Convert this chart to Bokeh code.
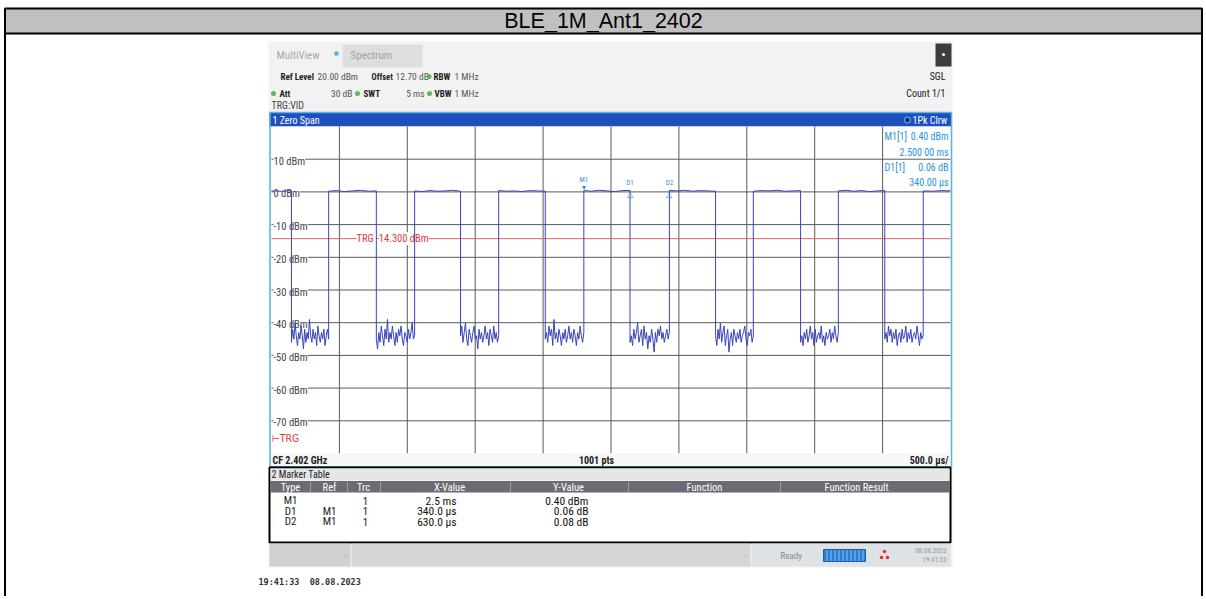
import numpy as np
from bokeh.plotting import figure
from bokeh.models import Range1d
from bokeh.core.properties import value
from bokeh.embed import file_html
from bokeh.resources import INLINE

# ---------------- data ----------------
chart_title = "BLE_1M_Ant1_2402"
y_tick_dbm = [10, 0, -10, -20, -30, -40, -50, -60, -70]
y_tick_labels = ["10 dBm", "0 dBm", "-10 dBm", "-20 dBm", "-30 dBm",
                 "-40 dBm", "-50 dBm", "-60 dBm", "-70 dBm"]
x_grid_ms = [0.7, 1.2, 1.7, 2.2, 2.7, 3.2, 3.7, 4.2, 4.7]
trigger_dbm = -14.3

burst_start_ms = [0.200, 0.621, 1.254, 1.873, 2.500, 3.130, 3.748, 4.374, 4.999]
burst_end_ms = [0.347, 0.972, 1.592, 2.216, 2.840, 3.470, 4.096, 4.716, 5.200]
burst_level_dbm = [
    [0.3, 0.2, 0.4],
    [0.2, 0.4, 0.1, 0.3, 0.5, 0.2, 0.3],
    [0.3, 0.1, 0.4, 0.2, 0.3, 0.5, 0.2],
    [0.4, 0.2, 0.3, 0.1, 0.4, 0.3, 0.2],
    [0.4, 0.2, 0.5, 0.3, 0.1, 0.4, 0.46],
    [0.48, 0.3, 0.5, 0.2, 0.4, 0.3, 0.2],
    [0.2, 0.4, 0.3, 0.5, 0.2, 0.3, 0.4],
    [0.3, 0.5, 0.2, 0.4, 0.1, 0.3, 0.4],
    [0.3, 0.2, 0.4, 0.3],
]
noise_dbm = [
    [-46, -42, -45, -40, -44, -47, -43, -45, -41, -44, -48, -42, -46, -43, -45, -39, -44, -46, -42, -45, -43, -47, -41, -44, -46, -43, -45, -42, -47, -44, -42, -45],
    [-45, -48, -43, -46, -41, -44, -47, -42, -45, -39, -46, -43, -45, -41, -44, -47, -43, -46, -42, -44, -41, -45, -47, -43, -44, -46, -42, -45, -43, -40, -45, -44],
    [-44, -41, -46, -43, -40, -45, -47, -42, -44, -46, -43, -41, -45, -44, -48, -42, -45, -43, -46, -44, -41, -45, -43, -47, -42, -44, -46, -41, -45, -43, -46, -44],
    [-45, -43, -46, -41, -44, -42, -47, -39, -45, -43, -46, -42, -44, -47, -43, -45, -42, -46, -44, -41, -45, -43, -46, -42, -44, -47, -43, -45, -41, -44, -46, -43],
    [-46, -44, -47, -42, -45, -43, -40, -46, -44, -42, -47, -41, -45, -43, -48, -44, -46, -42, -45, -49, -43, -46, -42, -44, -41, -45, -43, -46, -44, -42, -45, -43],
    [-44, -47, -42, -45, -40, -46, -43, -41, -47, -44, -42, -49, -45, -43, -47, -42, -44, -46, -43, -45, -42, -46, -44, -43, -41, -45, -47, -43, -44, -42, -46, -44],
    [-46, -44, -47, -43, -45, -42, -46, -44, -41, -45, -43, -47, -42, -46, -44, -43, -45, -41, -46, -44, -47, -43, -45, -44, -42, -46, -43, -45, -41, -44, -46, -43],
    [-45, -43, -46, -41, -44, -42, -46, -43, -45, -42, -47, -44, -43, -46, -42, -45, -44, -41, -46, -43, -45, -42, -46, -44, -43, -45, -41, -44, -47, -43, -45, -44],
]

marker_names = ["M1", "D1", "D2"]
marker_t_ms = [2.50, 2.84, 3.13]
marker_dbm = [0.40, 0.46, 0.48]

table_cols = ["Type", "Ref", "Trc", "X-Value", "Y-Value", "Function", "Function Result"]
table_type = ["M1", "D1", "D2"]
table_ref = ["", "M1", "M1"]
table_trc = ["1", "1", "1"]
table_x = ["2.5 ms", "340.0 \u00b5s", "630.0 \u00b5s"]
table_y = ["0.40 dBm", "0.06 dB", "0.08 dB"]

# ---------------- layout (page pixels) ----------------
W, H = 1204, 596
OX, OY = 0, 0
PL, PR, PT, PB = 271, 950, 126, 453
T0, T1 = 0.2, 5.2
DTOP, DBOT = 20.0, -80.0
tpp = (T1 - T0) / (PR - PL)
dpp = (DTOP - DBOT) / (PB - PT)

UI = value("Liberation Sans Narrow, Roboto Condensed, Roboto, sans-serif")
TITLEF = value("Liberation Sans")
MONO = value("DejaVu Sans Mono")

p = figure(width=W, height=H, x_range=Range1d(OX, OX + W), y_range=Range1d(OY + H, OY),
           toolbar_location=None, output_backend="svg", x_axis_type=None, y_axis_type=None,
           min_border=0)
p.outline_line_color = None
p.background_fill_color = "white"
p.border_fill_color = "white"
p.extra_x_ranges = {"t": Range1d(T0 - (PL - OX) * tpp, T1 + (OX + W - PR) * tpp)}
p.extra_y_ranges = {"dbm": Range1d(DBOT - (OY + H - PB) * dpp, DTOP + (PT - OY) * dpp)}


def box(x0, y0, x1, y1, fill, line=None, lw=1, **kw):
    p.quad(left=[x0], right=[x1], top=[y0], bottom=[y1], fill_color=fill,
           line_color=line, line_width=lw, **kw)


def txt(x, y, s, size=10, color="#333333", align="left", bold=False, font=UI, **kw):
    p.text(x=[x], y=[y], text=[s], text_font_size=f"{size}px", text_align=align,
           text_baseline="middle", text_color=color, text_font=font,
           text_font_style="bold" if bold else "normal", **kw)


def dot(x, y, color, size=5):
    p.scatter(x=[x], y=[y], size=size, fill_color=color, line_color=None)


# ---- outer frame and title ----
box(4.5, 8, 1201.5, 33, "#c0c0c0", "black", 2)
p.segment(x0=[4.5, 1201.5], y0=[33, 33], x1=[4.5, 1201.5], y1=[H, H],
          line_color="black", line_width=2)
txt(603, 20.5, chart_title, size=21.5, color="black", align="center", font=TITLEF)

# ---- instrument screenshot background ----
box(268, 41, 952, 567, "#f2f2f2")
txt(276, 55, "MultiView", 11, "#a8a8a8")
box(334, 51, 338, 55, "#4ab0e8")
box(342, 44, 422, 67, "#dedede")
txt(350, 55, "Spectrum", 11, "#a0a0a0")
box(935, 43, 951, 66, "#3c3c3c")
dot(943, 54, "white", 3)

txt(280, 76, "Ref Level", 9, "#222", bold=True)
txt(317, 76, "20.00 dBm", 9.5, "#555")
txt(371, 76, "Offset", 8.5, "#222", bold=True)
txt(395, 76, "12.70 dB", 9.5, "#555")
dot(428.5, 76, "#5cb85c")
txt(433, 76, "RBW", 9, "#222", bold=True)
txt(454, 76, "1 MHz", 9.5, "#555")
txt(945, 76, "SGL", 10, "#222", align="right")

dot(273, 93, "#5cb85c")
txt(279, 93, "Att", 9, "#222", bold=True)
txt(352, 93, "30 dB", 9.5, "#555", align="right")
dot(357, 93, "#5cb85c")
txt(363, 93, "SWT", 9, "#222", bold=True)
txt(424, 93, "5 ms", 9.5, "#555", align="right")
dot(429, 93, "#5cb85c")
txt(434, 93, "VBW", 9, "#222", bold=True)
txt(454, 93, "1 MHz", 9.5, "#555")
txt(945, 93, "Count 1/1", 10, "#222", align="right")
txt(271, 105, "TRG:VID", 10, "#444")

# ---- window title bar ----
box(269, 112, 951, 126, "#1e4fbf")
txt(272, 119.5, "1 Zero Span", 10, "white")
p.scatter(x=[907], y=[119.5], size=6, fill_color="#0d2a80", line_color="#7fc4f0", line_width=1)
txt(912, 119.5, "1Pk Clrw", 10, "white")

# ---- plot area ----
box(PL, PT, PR, PB, "white")
gx = dict(x_range_name="t", y_range_name="dbm")
p.segment(x0=x_grid_ms, y0=[DBOT] * len(x_grid_ms), x1=x_grid_ms, y1=[DTOP] * len(x_grid_ms),
          line_color="#5a5a5a", line_width=1, **gx)
p.segment(x0=[T0] * len(y_tick_dbm), y0=y_tick_dbm, x1=[T1] * len(y_tick_dbm), y1=y_tick_dbm,
          line_color="#5a5a5a", line_width=1, **gx)
p.segment(x0=[T0], y0=[trigger_dbm], x1=[T1], y1=[trigger_dbm], line_color="#e06060",
          line_width=1, **gx)

p.text(x=[273] * len(y_tick_dbm), y=y_tick_dbm, text=y_tick_labels, text_font_size="10.5px",
       text_baseline="middle", text_color="#444444", text_font=UI, y_offset=2,
       background_fill_color="white", y_range_name="dbm")
p.text(x=[356], y=[trigger_dbm], text=["TRG -14.300 dBm"], text_font_size="10.5px",
       text_baseline="middle", text_color="#e03c3c", text_font=UI,
       background_fill_color="white", y_range_name="dbm")
txt(271, 437, "\u22a2TRG", 10.5, "#e03c3c", font=value("DejaVu Sans Condensed, DejaVu Sans"))

# marker readouts
MC = "#2b93d6"
txt(884, 136, "M1[1]", 10, MC)
txt(948, 136, "0.40 dBm", 10, MC, align="right")
txt(948, 152, "2.500 00 ms", 10, MC, align="right")
txt(884, 167, "D1[1]", 10, MC)
txt(948, 167, "0.06 dB", 10, MC, align="right")
txt(948, 182, "340.00 \u00b5s", 10, MC, align="right")

# trace
tx, ty = [], []
for i in range(len(burst_start_ms)):
    lv = burst_level_dbm[i]
    tx += list(np.linspace(burst_start_ms[i], burst_end_ms[i], len(lv)))
    ty += lv
    if i < len(noise_dbm):
        nz = noise_dbm[i]
        tx += list(np.linspace(burst_end_ms[i], burst_start_ms[i + 1], len(nz)))
        ty += nz
p.line(x=tx, y=ty, line_color="#3845b8", line_width=1, **gx)

# markers
p.text(x=marker_t_ms[:1], y=marker_dbm[:1], text=["\u25bc"], text_font_size="7px",
       text_align="center", text_baseline="bottom", text_color=MC, y_offset=0, **gx)
p.text(x=marker_t_ms[1:], y=marker_dbm[1:], text=["\u25b3", "\u25b3"], text_font_size="8px",
       text_align="center", text_baseline="top", text_color=MC, y_offset=0, **gx)
p.text(x=marker_t_ms, y=marker_dbm, text=marker_names, text_font_size="7px",
       text_align="center", text_baseline="bottom", text_color=MC, text_font=UI,
       y_offset=[-7, -3, -3], **gx)

# plot frame border
p.quad(left=[269.5], right=[951], top=[112], bottom=[466], fill_color=None,
       line_color="#5ab4e6", line_width=1.5)

# ---- CF bar ----
box(271, 453, 950, 465.5, "#f7f7f7")
txt(272, 459.5, "CF 2.402 GHz", 10, "#222", bold=True)
txt(596, 459.5, "1001 pts", 10, "#222", align="center", bold=True)
txt(948, 459.5, "500.0 \u00b5s/", 10, "#222", align="right", bold=True)

# ---- marker table ----
box(269, 467, 950, 542, "white", "black", 2)
box(270, 468, 949, 480, "#e6e6e6")
txt(271, 474, "2 Marker Table", 10, "#222")
box(270, 480.5, 949, 492, "#6b6b73")
col_x = [290, 329, 363, 449, 568, 704, 856]
sep_x = [310, 347, 380, 510, 628, 780]
p.segment(x0=sep_x, y0=[481] * len(sep_x), x1=sep_x, y1=[492] * len(sep_x),
          line_color="#9a9aa2", line_width=1)
p.text(x=col_x, y=[486.5] * len(col_x), text=table_cols, text_font_size="10.5px",
       text_align="center", text_baseline="middle", text_color="white", text_font=UI)
row_y = [500, 510.5, 521]
p.text(x=[290] * 3, y=row_y, text=table_type, text_font_size="11px", text_align="center",
       text_baseline="middle", text_color="#222", text_font=UI)
p.text(x=[329] * 3, y=row_y, text=table_ref, text_font_size="11px", text_align="center",
       text_baseline="middle", text_color="#222", text_font=UI)
p.text(x=[365] * 3, y=row_y, text=table_trc, text_font_size="11px", text_align="center",
       text_baseline="middle", text_color="#222", text_font=UI)
p.text(x=[456] * 3, y=row_y, text=table_x, text_font_size="11.5px", text_align="right",
       text_baseline="middle", text_color="#111", text_font=UI)
p.text(x=[588] * 3, y=row_y, text=table_y, text_font_size="11.5px", text_align="right",
       text_baseline="middle", text_color="#111", text_font=UI)

# ---- status bar ----
box(269, 543, 350, 566, "#d0d0d0")
box(351, 543, 750, 566, "#d6d6d6")
box(751, 543, 950, 566, "#dde2e6")
txt(345, 555, "-", 9, "#999", align="center")
txt(745, 555, "-", 9, "#999", align="center")
txt(780, 555, "Ready", 9, "#8a8a8a")
p.quad(left=[823], right=[865], top=[549], bottom=[561], fill_color="#2a7fd4",
       line_color="#1a5fb0", hatch_pattern="vertical_line", hatch_color="#8cc0f0",
       hatch_scale=4, hatch_weight=1)
p.scatter(x=[884, 881, 887], y=[551, 557, 557], size=3.5, fill_color="#e03030", line_color=None)
txt(946, 550, "08.08.2023", 7, "#999", align="right")
txt(946, 559, "19:41:33", 7, "#999", align="right")

# ---- timestamp below ----
txt(258, 581, "19:41:33\u00a0 08.08.2023", 8.5, "#333", bold=True, font=MONO)

open("out.html", "w").write(file_html(p, INLINE))
